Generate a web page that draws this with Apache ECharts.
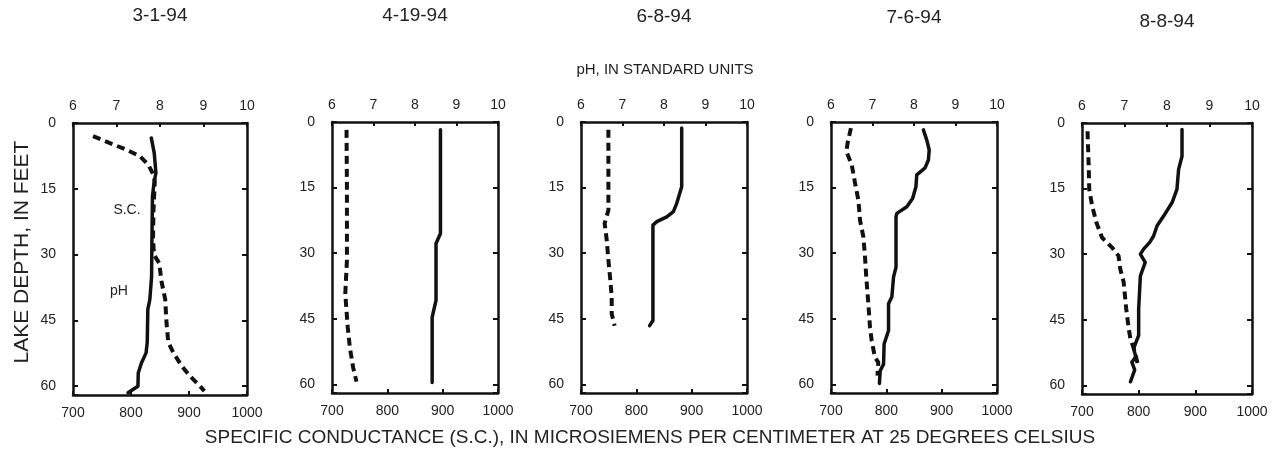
<!DOCTYPE html>
<html>
<head>
<meta charset="utf-8">
<script src="https://cdn.jsdelivr.net/npm/echarts@6/dist/echarts.min.js"></script>
<style>
  html, body { margin: 0; padding: 0; background: #fff; }
  #chart { width: 1278px; height: 464px; }
</style>
</head>
<body>
<div id="chart"></div>
<script>
// Sampling dates, one panel each
const dates = ['3-1-94', '4-19-94', '6-8-94', '7-6-94', '8-8-94'];

// Axis ticks
const depthTicks = [0, 15, 30, 45, 60];
const phTicks = [6, 7, 8, 9, 10];
const scTicks = [700, 800, 900, 1000];

// Specific conductance profiles: [microsiemens per cm, depth in feet]
const sc_3_1_94 = [[835, 3.4], [840, 6.8], [843, 11.4], [840, 13.3], [837, 16.7], [836, 27.3],
  [835.5, 35], [832.5, 40.2], [829, 42.5], [828, 50], [826, 52.4], [818, 54.7], [812.5, 57],
  [812, 60], [804, 60.7], [795, 61.5]];
const sc_4_19_94 = [[896, 1.8], [896, 15], [896, 25.5], [888, 27.8], [888, 40.8], [884, 43],
  [881, 44.7], [881, 59.6]];
const sc_6_8_94 = [[882, 1.4], [882, 14.8], [873, 18.6], [867, 20.5], [855, 21.7], [837, 22.8],
  [830, 23.6], [830, 43.1], [830, 45.4], [824, 46.6]];
const sc_7_6_94 = [[867, 1.8], [873, 4.1], [877.5, 6.4], [876, 8.7], [870, 10.5], [855, 12.1],
  [853.5, 14.8], [847.5, 17.5], [837, 19.4], [819, 20.9], [817.5, 21.7], [817.5, 33.2],
  [813, 35.5], [810, 40], [804, 41.6], [804, 47.7], [796, 50.8], [795, 55.4], [789, 56.9],
  [787.5, 59.8]];
const sc_8_8_94 = [[876.5, 1.5], [876.5, 7.6], [870.5, 10.6], [867.5, 15.2], [859, 18.2],
  [844, 21.3], [832.5, 23.5], [826.5, 25.8], [819.5, 27.3], [809, 28.8], [803, 30],
  [811.5, 31.9], [803, 35], [800, 42.5], [800, 48.6], [791, 51.6], [795, 53.5], [788, 54.7],
  [793, 56.5], [785.5, 59.2]];

// pH profiles: [standard units, depth in feet]
const ph_3_1_94 = [[6.46, 3], [6.85, 4.6], [7.23, 6.1], [7.54, 7.6], [7.73, 9.5], [7.85, 11.8],
  [7.88, 13.3], [7.85, 20], [7.84, 26], [7.86, 30], [7.98, 31.9], [8.04, 36.4], [8.12, 40.2],
  [8.15, 45.6], [8.19, 50], [8.31, 52.4], [8.5, 55.4], [8.69, 57.7], [8.92, 60], [9.02, 61.1]];
const ph_4_19_94 = [[6.35, 1.8], [6.36, 15.5], [6.36, 31.6], [6.32, 39.3], [6.38, 47],
  [6.43, 51.6], [6.51, 56.2], [6.59, 59.4]];
const ph_6_8_94 = [[6.66, 1.8], [6.66, 20.2], [6.57, 23.2], [6.62, 27], [6.66, 31.6],
  [6.7, 35.5], [6.74, 40], [6.74, 43.9], [6.81, 46.6]];
const ph_7_6_94 = [[6.48, 1.4], [6.4, 4.8], [6.37, 6.7], [6.5, 9.8], [6.58, 14], [6.66, 17.9],
  [6.7, 22.5], [6.78, 26.3], [6.82, 30.9], [6.85, 35.5], [6.9, 41.6], [6.94, 47], [6.98, 50],
  [7.06, 53.9], [7.14, 55], [7.12, 58]];
const ph_8_8_94 = [[6.13, 1.9], [6.16, 10.6], [6.17, 15.2], [6.24, 19], [6.34, 22.8],
  [6.47, 26.2], [6.71, 28.5], [6.86, 30.4], [6.9, 33.4], [6.98, 36.4], [7.04, 42.5],
  [7.1, 47.1], [7.14, 49.4], [7.22, 51.6], [7.33, 55.8]];

const scProfiles = [sc_3_1_94, sc_4_19_94, sc_6_8_94, sc_7_6_94, sc_8_8_94];
const phProfiles = [ph_3_1_94, ph_4_19_94, ph_6_8_94, ph_7_6_94, ph_8_8_94];

// Plot-box placement of each panel (pixels)
const boxes = [
  { left: 73, width: 174, top: 123, height: 272 },
  { left: 332, width: 166, top: 122, height: 271 },
  { left: 581, width: 166, top: 122, height: 271 },
  { left: 831, width: 166, top: 122, height: 271 },
  { left: 1082, width: 170, top: 123, height: 271 }
];
const titleY = [16, 16, 17, 18, 22];

const INK = '#111';
const FONT = 'Liberation Sans, Arial, sans-serif';
const DEPTH_MAX = 62;
const plain = v => String(v);

const grid = [], xAxis = [], yAxis = [], series = [], graphic = [];

boxes.forEach((b, i) => {
  grid.push({ left: b.left, top: b.top, width: b.width, height: b.height, show: false });

  // bottom: specific conductance
  xAxis.push({
    gridIndex: i, type: 'value', position: 'bottom',
    min: scTicks[0], max: scTicks[scTicks.length - 1], interval: 100,
    axisLine: { show: true, onZero: false, lineStyle: { color: INK, width: 2.5 } },
    axisTick: { show: true, inside: true, length: 4, lineStyle: { color: INK, width: 2 } },
    axisLabel: { show: true, margin: 11, fontSize: 14, color: '#222', fontFamily: FONT, formatter: plain },
    splitLine: { show: false }
  });
  // top: pH
  xAxis.push({
    gridIndex: i, type: 'value', position: 'top',
    min: phTicks[0], max: phTicks[phTicks.length - 1], interval: 1,
    axisLine: { show: true, onZero: false, lineStyle: { color: INK, width: 2.5 } },
    axisTick: { show: true, inside: true, length: 4, lineStyle: { color: INK, width: 2 } },
    axisLabel: { show: true, margin: 10, fontSize: 14, color: '#222', fontFamily: FONT, formatter: plain },
    splitLine: { show: false }
  });
  // left: depth
  yAxis.push({
    gridIndex: i, type: 'value', position: 'left', inverse: true,
    min: depthTicks[0], max: DEPTH_MAX, interval: 15,
    axisLine: { show: true, onZero: false, lineStyle: { color: INK, width: 2.5 } },
    axisTick: { show: true, inside: true, length: 5, lineStyle: { color: INK, width: 2 } },
    axisLabel: {
      show: true, margin: 17, fontSize: 14, color: '#222', fontFamily: FONT,
      formatter: v => (depthTicks.indexOf(v) >= 0 ? String(v) : '')
    },
    splitLine: { show: false }
  });
  // right edge of the box, ticks only
  yAxis.push({
    gridIndex: i, type: 'value', position: 'right', inverse: true,
    min: depthTicks[0], max: DEPTH_MAX, interval: 15,
    axisLine: { show: true, onZero: false, lineStyle: { color: INK, width: 2.5 } },
    axisTick: { show: true, inside: true, length: 5, lineStyle: { color: INK, width: 2 } },
    axisLabel: { show: false },
    splitLine: { show: false }
  });

  series.push({
    name: 'S.C. ' + dates[i], type: 'line',
    xAxisIndex: i * 2, yAxisIndex: i * 2,
    data: scProfiles[i], symbol: 'none', silent: true,
    lineStyle: { color: INK, width: 3.5, cap: 'round', join: 'round' }
  });
  series.push({
    name: 'pH ' + dates[i], type: 'line',
    xAxisIndex: i * 2 + 1, yAxisIndex: i * 2,
    data: phProfiles[i], symbol: 'none', silent: true,
    lineStyle: { color: INK, width: 4, type: [8, 5], cap: 'butt' }
  });

  graphic.push({
    type: 'text', x: b.left + b.width / 2, y: titleY[i],
    style: { text: dates[i], fill: '#222', font: '19px ' + FONT, align: 'center', verticalAlign: 'middle' }
  });
});

// shared axis titles
graphic.push({
  type: 'text', x: 665, y: 70,
  style: { text: 'pH, IN STANDARD UNITS', fill: '#222', font: '15px ' + FONT, align: 'center', verticalAlign: 'middle' }
});
graphic.push({
  type: 'text', x: 650, y: 438,
  style: { text: 'SPECIFIC CONDUCTANCE (S.C.), IN MICROSIEMENS PER CENTIMETER AT 25 DEGREES CELSIUS',
    fill: '#222', font: '19px ' + FONT, align: 'center', verticalAlign: 'middle' }
});
graphic.push({
  type: 'text', x: 22, y: 252, rotation: Math.PI / 2,
  style: { text: 'LAKE DEPTH, IN FEET', fill: '#222', font: '21px ' + FONT, align: 'center', verticalAlign: 'middle' }
});

// curve labels in the first panel
graphic.push({
  type: 'text', x: 127, y: 210,
  style: { text: 'S.C.', fill: '#222', font: '14px ' + FONT, align: 'center', verticalAlign: 'middle' }
});
graphic.push({
  type: 'text', x: 119, y: 291,
  style: { text: 'pH', fill: '#222', font: '14px ' + FONT, align: 'center', verticalAlign: 'middle' }
});

const chart = echarts.init(document.getElementById('chart'), null, { renderer: 'canvas' });
chart.setOption({
  backgroundColor: '#fff',
  animation: false,
  grid, xAxis, yAxis, series, graphic
});
</script>
</body>
</html>
